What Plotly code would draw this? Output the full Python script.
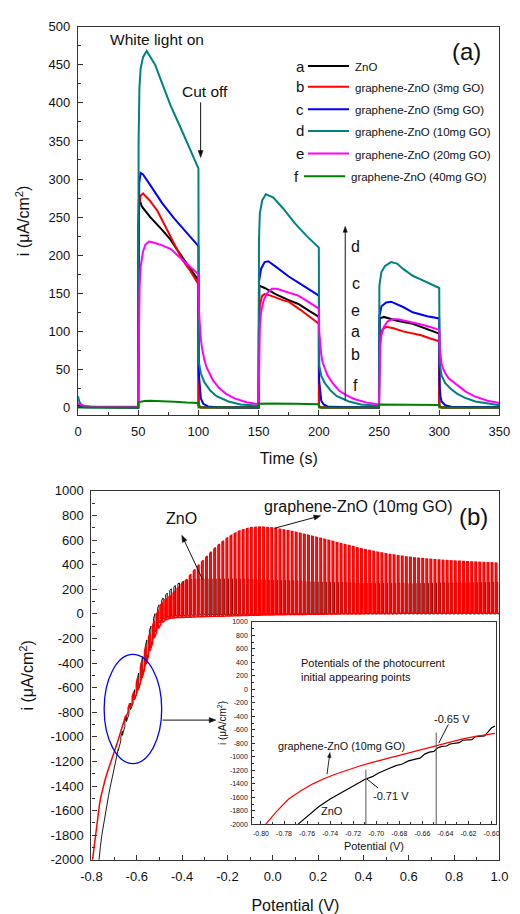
import math
import numpy as np
import plotly.graph_objects as go

W, H = 520, 914
FONT = "Liberation Sans, Arial, sans-serif"
AX = "#333333"

# ---------------- panel (a): photocurrent vs time ----------------
t_a = [0, 50, 50.1, 50.6, 53, 60, 70, 77, 82, 87, 93, 100, 100.1, 102, 150, 150.1, 150.6, 155, 164, 175, 183, 192, 200,
       200.1, 202, 250, 250.1, 250.6, 254, 265, 278, 290, 300, 300.1, 302, 350]
i_a = [1, 0, 240, 275, 264, 250, 233, 220, 208, 197, 183, 167, 3, 0.5, 0, 150, 160, 157, 149, 141, 136, 127, 119,
       2, 0, 0, 110, 117, 119, 114, 110, 103, 97, 2, 0, 0]

t_b = [0, 50, 50.1, 50.6, 52, 54, 57, 60, 66, 72, 78, 82, 87, 93, 100, 100.1, 102, 150, 150.1, 151, 153, 155, 160, 170,
       175, 185, 193, 200, 200.1, 202, 250, 250.1, 251, 253, 256, 262, 270, 278, 285, 292, 300, 300.1, 302, 350]
i_b = [1, 0, 220, 265, 278, 281, 276, 271, 258, 240, 220, 208, 193, 180, 162, 3, 0, 0, 100, 135, 147, 149, 147, 141,
       139, 128, 118, 110, 2, 0, 0, 75, 95, 103, 106, 104, 100, 97, 95, 91, 87, 2, 0, 0]

t_c = [0, 5, 50, 50.2, 50.8, 52, 54, 60, 70, 80, 90, 100, 100.3, 101, 102, 104, 108, 115, 150, 150.3, 152, 155, 158,
       165, 175, 185, 195, 200, 200.3, 201, 202, 204, 208, 250, 250.3, 252, 256, 260, 270, 278, 290, 300, 300.3, 301,
       302, 305, 310, 350]
i_c = [3, 0.5, 0, 260, 295, 308, 306, 292, 268, 248, 230, 212, 45, 25, 12, 5, 1.5, 0.5, 0, 165, 182, 191, 192,
       184, 172, 162, 152, 147, 35, 18, 9, 4, 1, 0, 120, 133, 138, 139, 132, 125, 120, 117, 30, 15,
       8, 3, 1, 0.5]

t_d = [0, 1, 3, 6, 10, 50, 50.3, 51, 52, 54, 57, 64, 70, 77, 85, 93, 100, 100.3, 102, 105, 110, 115, 125, 135, 150,
       150.3, 151, 153, 156, 162, 170, 180, 190, 200, 200.3, 202, 205, 210, 215, 225, 235, 250, 250.3, 252, 255, 260,
       265, 270, 278, 285, 292, 300, 300.3, 302, 305, 310, 315, 321, 330, 340, 350]
i_d = [15, 8, 3, 1, 0.5, 0.5, 350, 420, 445, 460, 468, 450, 425, 396, 368, 340, 314, 60, 45, 33, 22, 15, 8, 4, 2.5,
       220, 255, 272, 280, 276, 262, 242, 225, 210, 55, 42, 32, 22, 15, 8, 4, 2.5, 160, 178, 186, 191,
       189, 182, 173, 168, 163, 157, 60, 42, 32, 24, 18, 13, 8, 5, 3]

t_e = [0, 2, 5, 10, 30, 50, 50.2, 50.6, 51.2, 52, 54, 56, 59, 62, 70, 77, 87, 93, 100, 100.3, 101, 102, 103, 105, 107,
       109, 112, 117, 123, 130, 140, 150, 150.3, 151, 152, 154, 157, 161, 165, 175, 183, 192, 200, 200.3, 201, 202,
       203, 205, 207, 209, 212, 217, 223, 230, 240, 250, 250.3, 251, 252, 254, 257, 261, 266, 272, 278, 285, 292, 300,
       300.3, 301, 302, 303, 305, 308, 312, 316, 322, 329, 340, 350]
i_e = [6, 4, 2.5, 1.5, 1, 1, 60, 120, 160, 185, 205, 214, 218, 217, 213, 208, 194, 185, 175, 130, 105, 90, 78, 62, 52,
       45, 36, 26, 18, 12, 7, 4.5, 60, 105, 125, 140, 150, 156, 156, 151, 147, 138, 130, 100, 82, 70,
       60, 50, 43, 38, 31, 22, 16, 11, 6.5, 4, 50, 80, 95, 106, 113, 116, 116, 114, 112, 109, 106, 102,
       80, 68, 58, 52, 45, 38, 33, 29, 21, 15, 9, 6]

t_f = [0, 50, 50.1, 55, 60, 70, 80, 90, 100, 100.1, 150, 150.1, 160, 180, 200, 200.1, 250, 250.1, 270, 300, 300.1, 350]
i_f = [0, 0, 7, 8.5, 9, 8.5, 7.5, 6.5, 6, 0, 0, 5, 5.5, 5, 4.5, 0, 0, 4, 4, 3.5, 0, 0]

series_letters = ["a", "b", "c", "d", "e", "f"]
series_names = ["ZnO", "graphene-ZnO (3mg GO)", "graphene-ZnO (5mg GO)", "graphene-ZnO (10mg GO)",
                "graphene-ZnO (20mg GO)", "graphene-ZnO (40mg GO)"]
series_colors = ["#000000", "#FF0000", "#0000FF", "#008080", "#FF00FF", "#008000"]
time_ticks = [0, 50, 100, 150, 200, 250, 300, 350]
cur_ticks_a = [0, 50, 100, 150, 200, 250, 300, 350, 400, 450, 500]

# ---------------- panel (b): chopped-light LSV ----------------
V_grid = [-0.80, -0.77, -0.75, -0.73, -0.71, -0.69, -0.67, -0.65, -0.63, -0.61, -0.59, -0.57, -0.55, -0.52, -0.50,
          -0.48, -0.45, -0.42, -0.38, -0.34, -0.30, -0.25, -0.20, -0.15, -0.10, -0.05, 0.00, 0.10, 0.20, 0.30, 0.40,
          0.50, 0.60, 0.70, 0.80, 0.90, 1.00]
red_dark = [-2070, -1600, -1410, -1290, -1170, -1070, -960, -850, -760, -690, -600, -480, -350, -180, -100,
            -55, -35, -30, -28, -25, -22, -20, -18, -15, -12, -10, -8, -5, -3, 0, 2,
            3, 5, 5, 5, 5, 5]
red_light = [-2070, -1600, -1410, -1290, -1170, -1070, -960, -830, -720, -620, -480, -330, -200, -40, 60,
             110, 150, 210, 280, 370, 450, 545, 620, 672, 700, 706, 698, 665, 620, 572, 525,
             488, 460, 442, 430, 420, 412]
black_dark = [-2600, -2030, -1740, -1530, -1340, -1170, -1030, -900, -790, -700, -600, -470, -330, -150, -70,
              -35, -20, -15, -12, -10, -8, -6, -5, -4, -3, -2, -1, 0, 0, 0, 0,
              0, 0, 0, 0, 0, 0]
black_light = [-2600, -2030, -1740, -1530, -1340, -1170, -1000, -860, -740, -620, -470, -320, -170, 0, 80,
               140, 200, 245, 275, 282, 285, 285, 285, 283, 280, 278, 275, 268, 260, 255, 250,
               248, 248, 250, 252, 255, 258]
chop_period_V = 0.018
chop_duty = 0.38

pot_ticks = [-0.8, -0.6, -0.4, -0.2, 0.0, 0.2, 0.4, 0.6, 0.8, 1.0]
pot_ticktext = ["-0.8", "-0.6", "-0.4", "-0.2", "0.0", "0.2", "0.4", "0.6", "0.8", "1.0"]
cur_ticks_b = list(range(-2000, 1001, 200))
cur_ticktext_b = [str(v) for v in cur_ticks_b]

# inset
inset_red_V = [-0.796, -0.787, -0.776, -0.765, -0.755, -0.745, -0.735, -0.725, -0.715, -0.705, -0.695, -0.685,
               -0.675, -0.665, -0.655, -0.645, -0.635, -0.625, -0.615, -0.605, -0.597]
inset_red_i = [-2000, -1820, -1625, -1500, -1400, -1320, -1255, -1195, -1140, -1090, -1045, -995,
               -955, -905, -865, -825, -775, -735, -700, -670, -654]
inset_black_V = [-0.768, -0.760, -0.750, -0.740, -0.730, -0.720, -0.710, -0.703, -0.698, -0.690, -0.683, -0.678,
                 -0.672, -0.666, -0.662, -0.658, -0.654, -0.650, -0.647, -0.643, -0.639, -0.636, -0.632, -0.628,
                 -0.625, -0.621, -0.617, -0.614, -0.610, -0.606, -0.603, -0.600, -0.597]
inset_black_i = [-2000, -1880, -1740, -1626, -1530, -1430, -1335, -1290, -1240, -1180, -1130, -1110,
                 -1060, -1035, -1020, -960, -930, -920, -870, -845, -840, -810, -795, -790,
                 -755, -750, -745, -700, -690, -690, -630, -570, -545]
inset_x_ticks = [-0.80, -0.78, -0.76, -0.74, -0.72, -0.70, -0.68, -0.66, -0.64, -0.62, -0.60]
inset_x_ticktext = ["-0.80", "-0.78", "-0.76", "-0.74", "-0.72", "-0.70", "-0.68", "-0.66", "-0.64", "-0.62",
                    "-0.60"]
onset_V = [-0.709, -0.648]
onset_top_i = [-1190, -640]


def chopped(V, dark, light, phase):
    xs, ys = [], []
    v = V[0] + phase * chop_period_V
    xs.append(V[0]); ys.append(float(np.interp(V[0], V, dark)))
    while v < V[-1]:
        v_off = min(v + chop_duty * chop_period_V, V[-1])
        v_end = min(v + chop_period_V, V[-1])
        xs += [v, v, v_off, v_off, v_end]
        ys += [float(np.interp(v, V, dark)), float(np.interp(v, V, light)),
               float(np.interp(v_off, V, light)), float(np.interp(v_off, V, dark)),
               float(np.interp(v_end, V, dark))]
        v += chop_period_V
    return xs, ys


def px(x):
    return x / W


def py(y):
    return 1 - y / H


fig = go.Figure()

# panel (a) traces
for t, i, c in zip([t_a, t_b, t_c, t_d, t_e, t_f], [i_a, i_b, i_c, i_d, i_e, i_f], series_colors):
    fig.add_trace(go.Scatter(x=t, y=i, mode="lines", line=dict(color=c, width=2), xaxis="x", yaxis="y",
                             showlegend=False, hoverinfo="skip"))

# panel (b) traces
bx, by = chopped(V_grid, black_dark, black_light, 0.2)
fig.add_trace(go.Scatter(x=bx, y=by, mode="lines", line=dict(color="#000000", width=0.9), xaxis="x2", yaxis="y2",
                         showlegend=False, hoverinfo="skip"))
rx, ry = chopped(V_grid, red_dark, red_light, 0.0)
fig.add_trace(go.Scatter(x=rx, y=ry, mode="lines", line=dict(color="#FF0000", width=1.5), xaxis="x2", yaxis="y2",
                         showlegend=False, hoverinfo="skip"))

# inset traces
fig.add_trace(go.Scatter(x=inset_black_V, y=inset_black_i, mode="lines", line=dict(color="#000000", width=1.2),
                         xaxis="x3", yaxis="y3", showlegend=False, hoverinfo="skip"))
fig.add_trace(go.Scatter(x=inset_red_V, y=inset_red_i, mode="lines", line=dict(color="#FF0000", width=1.2),
                         xaxis="x3", yaxis="y3", showlegend=False, hoverinfo="skip"))


def axis(domain, rng, tickvals, ticktext, minor_dtick, tick0, anchor, title, title_size, title_standoff,
         size=13, ticklen=5, minorlen=3, standoff=4):
    return dict(domain=domain, range=rng, anchor=anchor, showline=True, linecolor=AX, linewidth=1.3, mirror=True,
                ticks="inside", ticklen=ticklen, tickwidth=1, tickcolor=AX, tickmode="array", tickvals=tickvals,
                ticktext=ticktext, showgrid=False, zeroline=False, ticklabelstandoff=standoff,
                tickfont=dict(family=FONT, size=size, color="#111111"),
                title=dict(text=title, standoff=title_standoff, font=dict(family=FONT, size=title_size,
                                                                          color="#111111")),
                minor=dict(ticks="inside", ticklen=minorlen, tickwidth=1, tickcolor=AX, tickmode="linear",
                           tick0=tick0, dtick=minor_dtick, showgrid=False))


YT = "i (μA/cm<sup>2</sup>)"
fig.update_layout(
    width=W, height=H, margin=dict(l=0, r=0, t=0, b=0), paper_bgcolor="white", plot_bgcolor="white",
    showlegend=False,
    xaxis=axis([px(70), px(510)], [0, 350], time_ticks, [str(v) for v in time_ticks], 25, 0, "y",
               "Time (s)", 16, 14),
    yaxis=axis([py(415), py(20)], [-10, 500], cur_ticks_a, [str(v) for v in cur_ticks_a], 25, 0, "x",
               YT, 16, 14),
    xaxis2=axis([px(84), px(510)], [-0.8, 1.0], pot_ticks, pot_ticktext, 0.1, -0.8, "y2",
                "Potential (V)", 16, 18),
    yaxis2=axis([py(867), py(492)], [-2000, 1000], cur_ticks_b, cur_ticktext_b, 100, -2000, "x2",
                YT, 16, 12),
    xaxis3=axis([px(252), px(506)], [-0.8075, -0.5965], inset_x_ticks, inset_x_ticktext, 0.01, -0.80, "y3",
                "Potential (V)", 10.9, 6, size=7, ticklen=3, minorlen=2, standoff=2),
    yaxis3=axis([py(831), py(625)], [-2000, 1000], cur_ticks_b, cur_ticktext_b, 100, -2000, "x3",
                YT, 10, 1, size=7, ticklen=3, minorlen=2, standoff=2),
)

ann = []
shapes = []


def text(x, y, s, size, anchor="center", angle=0):
    ann.append(dict(x=px(x), y=py(y), xref="paper", yref="paper", text=s, showarrow=False, xanchor=anchor,
                    yanchor="middle", textangle=angle, font=dict(family=FONT, size=size, color="#111111")))


def seg(x0, y0, x1, y1, color="#111111", width=1.0):
    shapes.append(dict(type="line", xref="paper", yref="paper", x0=px(x0), y0=py(y0), x1=px(x1), y1=py(y1),
                       line=dict(color=color, width=width)))


def arrow(hx, hy, tx, ty, L=7.0, hw=2.6, width=1.0):
    dx, dy = hx - tx, hy - ty
    n = math.hypot(dx, dy)
    ux, uy = dx / n, dy / n
    bx_, by_ = hx - ux * L, hy - uy * L
    seg(tx, ty, bx_ + ux * 1.0, by_ + uy * 1.0, width=width)
    p1 = (bx_ - uy * hw, by_ + ux * hw)
    p2 = (bx_ + uy * hw, by_ - ux * hw)
    path = "M {:.5f},{:.5f} L {:.5f},{:.5f} L {:.5f},{:.5f} Z".format(px(hx), py(hy), px(p1[0]), py(p1[1]),
                                                                   px(p2[0]), py(p2[1]))
    shapes.append(dict(type="path", xref="paper", yref="paper", path=path, fillcolor="#111111",
                       line=dict(color="#111111", width=0.5)))


# ---- panel (a) decorations
text(152.5, 33, "White light on", 15.5)
text(202.5, 86, "Cut off", 15.5)
arrow(198, 153, 198, 97)
text(476, 45, "(a)", 24)
leg_y = [60, 81, 104, 126, 149, 172]
for k, (let, name, col) in enumerate(zip(series_letters, series_names, series_colors)):
    off = -4 if k == 5 else 0
    text(302 + off, leg_y[k], let, 15)
    seg(310 + off, leg_y[k], 353 + off, leg_y[k], col, 2)
    text(357 + off, leg_y[k] + 1, name, 11.5, anchor="left")
arrow(349, 223, 349, 400, L=6, hw=2.2)
for let, yy in zip(["d", "c", "e", "a", "b", "f"], [243, 281, 309, 330, 353, 385]):
    text(360, yy, let, 16)

# ---- panel (b) decorations
text(178, 520, "ZnO", 16)
arrow(178.3, 537, 200, 582)
text(362.5, 508, "graphene-ZnO (10mg GO)", 16)
arrow(323.3, 517.3, 275, 530)
text(483, 518, "(b)", 24)
shapes.append(dict(type="circle", xref="x2", yref="y2", x0=-0.744, x1=-0.490, y0=-1218, y1=-330,
                   line=dict(color="#0000FF", width=1.3)))
arrow(214, 725, 158.3, 725)

# ---- inset decorations
text(301, 667, "Potentials of the photocurrent", 11, anchor="left")
text(301, 681, "initial appearing points", 11, anchor="left")
text(345, 751, "graphene-ZnO (10mg GO)", 10.8)
arrow(333, 758, 330, 780, L=5, hw=1.8, width=0.9)
text(335, 817, "ZnO", 11)
text(396.5, 802, "-0.71 V", 11)
seg(371.7, 785, 383.3, 794)
text(461, 724, "-0.65 V", 11)
seg(446.7, 748.3, 456.7, 729.3)
for v, top in zip(onset_V, onset_top_i):
    shapes.append(dict(type="line", xref="x3", yref="y3", x0=v, x1=v, y0=-2000, y1=top,
                       line=dict(color="#555555", width=1)))

fig.update_layout(annotations=ann, shapes=shapes)
fig.write_html("out.html")
